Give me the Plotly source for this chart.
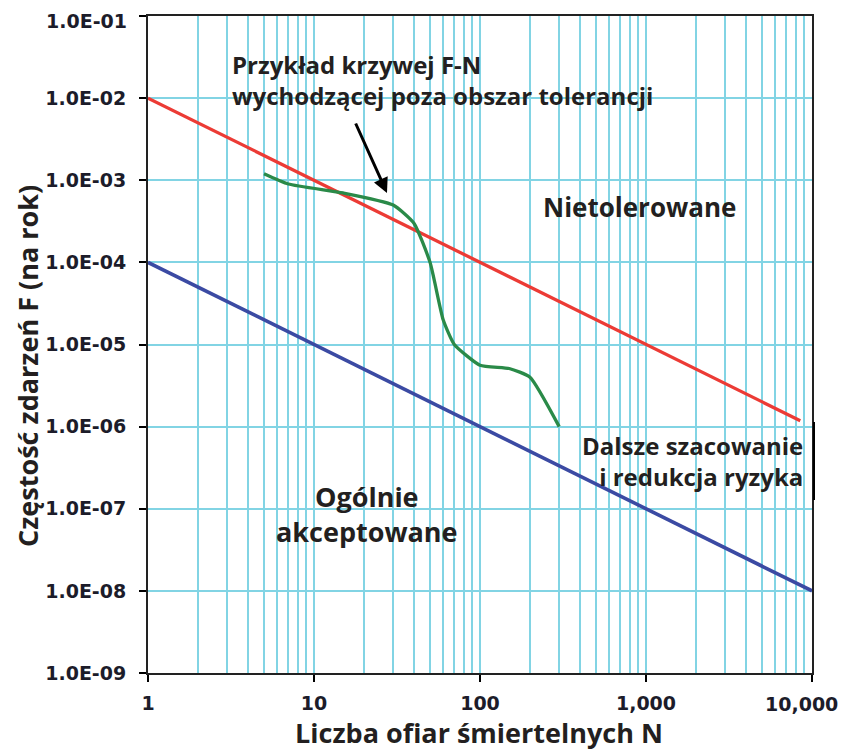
import plotly.graph_objects as go

# ---- data ----
upper_n = [1, 8500]
upper_f = [1e-2, 1.18e-6]    # tolerability limit (red)
lower_n = [1, 10000]
lower_f = [1e-4, 1e-8]       # broadly acceptable limit (blue)

fn_n = [5, 7, 15, 30, 40, 50, 60, 70, 100, 150, 200, 300]
fn_f = [1.2e-3, 9e-4, 7e-4, 5e-4, 3e-4, 1e-4, 2e-5, 1e-5, 5.6e-6, 5.1e-6, 4e-6, 1.0e-6]

x_tickvals = [1, 10, 100, 1000, 10000]
x_ticktext = ["1", "10", "100", "1,000", "10,000"]
y_tickvals = [1e-9, 1e-8, 1e-7, 1e-6, 1e-5, 1e-4, 1e-3, 1e-2, 1e-1]
y_ticktext = ["1.0E-09", "1.0E-08", "1.0E-07", "1.0E-06", "1.0E-05",
              "1.0E-04", "1.0E-03", "1.0E-02", "1.0E-01"]

FONT = "Open Sans, Liberation Sans, Arial, sans-serif"
TICKFONT = "DejaVu Sans, sans-serif"
TXT = "#231f20"
TICKCOL = "#1c1c2a"
GRID = "#82d4e4"

# page body has an 8px margin -> figure is drawn 8px right/down
OFF = 8
W, H = 849, 751
X0, X1, Y0, Y1 = 148, 812, 16, 673     # plot area on screen
L, T = X0 - OFF, Y0 - OFF
R, B = W - (X1 - OFF), H - (Y1 - OFF)
PW, PH = X1 - X0, Y1 - Y0


def px(xs):
    return (xs - X0) / PW


def py(ys):
    return (Y1 - ys) / PH


def lx(xs):   # screen x -> log10 data
    return (xs - X0) / PW * 4


def ly(ys):   # screen y -> log10 data
    return -1 - (ys - Y0) / PH * 8


minor_x = [m * 10 ** d for d in range(0, 4) for m in range(2, 10)]

fig = go.Figure()
fig.add_trace(go.Scatter(x=upper_n, y=upper_f, mode="lines",
                         line=dict(color="#ec3b35", width=3.3), showlegend=False))
fig.add_trace(go.Scatter(x=lower_n, y=lower_f, mode="lines",
                         line=dict(color="#3b4aa3", width=3.6), showlegend=False))
fig.add_trace(go.Scatter(x=fn_n, y=fn_f, mode="lines",
                         line=dict(color="#2a8a48", width=3.3, shape="spline", smoothing=0.5),
                         showlegend=False))

fig.update_layout(
    width=W, height=H,
    margin=dict(l=L, r=R, t=T, b=B),
    paper_bgcolor="white", plot_bgcolor="white",
    font=dict(family=FONT, color=TXT),
)

# edge tick labels are drawn as anchored annotations so they stay inside the window
shown_xtext = x_ticktext[:-1] + [""]
shown_ytext = y_ticktext[:-1] + [""]

fig.update_xaxes(
    type="log", range=[0, 4], automargin=False,
    tickvals=x_tickvals, ticktext=shown_xtext,
    tickfont=dict(family=TICKFONT, size=19, weight="bold", color=TICKCOL),
    ticks="outside", ticklen=7, tickwidth=2, tickcolor="black",
    showgrid=True, gridcolor=GRID, gridwidth=2,
    minor=dict(tickvals=minor_x, showgrid=True, gridcolor=GRID, gridwidth=2, ticks=""),
    showline=True, linecolor="#222222", linewidth=2, mirror=True,
    zeroline=False, ticklabeloverflow="allow",
    ticklabelstandoff=5,
)
fig.update_yaxes(
    type="log", range=[-9, -1], automargin=False,
    tickvals=y_tickvals, ticktext=shown_ytext,
    tickfont=dict(family=TICKFONT, size=19, weight="bold", color=TICKCOL),
    ticks="outside", ticklen=7, tickwidth=2, tickcolor="black",
    showgrid=True, gridcolor=GRID, gridwidth=2,
    showline=True, linecolor="#222222", linewidth=2, mirror=True,
    zeroline=False, ticklabeloverflow="allow",
    ticklabelstandoff=9,
)

fig.add_annotation(xref="paper", yref="paper", x=px(840), y=py(704),
                   xanchor="right", yanchor="middle", showarrow=False,
                   text=x_ticktext[-1],
                   font=dict(family=TICKFONT, size=19, weight="bold", color=TICKCOL))
fig.add_annotation(xref="paper", yref="paper", x=px(128), y=py(8.5),
                   xanchor="right", yanchor="top", showarrow=False, borderpad=0,
                   text=y_ticktext[-1],
                   font=dict(family=TICKFONT, size=19, weight="bold", color=TICKCOL))

# axis titles
fig.add_annotation(xref="paper", yref="paper", x=px(479), y=py(732),
                   xanchor="center", yanchor="middle", showarrow=False,
                   text="Liczba ofiar śmiertelnych N",
                   font=dict(size=27, weight="bold", color=TXT))
fig.add_annotation(xref="paper", yref="paper", x=px(27), y=py(366),
                   xanchor="center", yanchor="middle", showarrow=False, textangle=-90,
                   text="Częstość zdarzeń F (na rok)",
                   font=dict(size=27, weight="bold", color=TXT))

# small frame segment to the right of the lower-right label
fig.add_shape(type="line", xref="paper", yref="paper", x0=px(814), x1=px(814),
              y0=py(422), y1=py(500), line=dict(color="black", width=2))

# annotations
fig.add_annotation(xref="paper", yref="paper", x=px(230), y=py(80),
                   xanchor="left", yanchor="middle", align="left", showarrow=False,
                   text="Przykład krzywej F-N<br>wychodzącej poza obszar tolerancji",
                   font=dict(size=24, weight="bold", color=TXT))
fig.add_annotation(x=lx(387), y=ly(193), xref="x", yref="y",
                   ax=lx(355), ay=ly(122), axref="x", ayref="y",
                   showarrow=True, arrowhead=2, arrowsize=1,
                   arrowwidth=3, arrowcolor="black", text="")
fig.add_annotation(xref="paper", yref="paper", x=px(639), y=py(207),
                   xanchor="center", yanchor="middle", showarrow=False,
                   text="Nietolerowane", font=dict(size=26, weight="bold", color=TXT))
fig.add_annotation(xref="paper", yref="paper", x=px(805), y=py(461),
                   xanchor="right", yanchor="middle", align="right", showarrow=False,
                   text="Dalsze szacowanie<br>i redukcja ryzyka",
                   font=dict(size=24, weight="bold", color=TXT))
fig.add_annotation(xref="paper", yref="paper", x=px(367), y=py(514),
                   xanchor="center", yanchor="middle", align="center", showarrow=False,
                   text="Ogólnie<br>akceptowane",
                   font=dict(size=27, weight="bold", color=TXT))

fig.write_html("out.html")
